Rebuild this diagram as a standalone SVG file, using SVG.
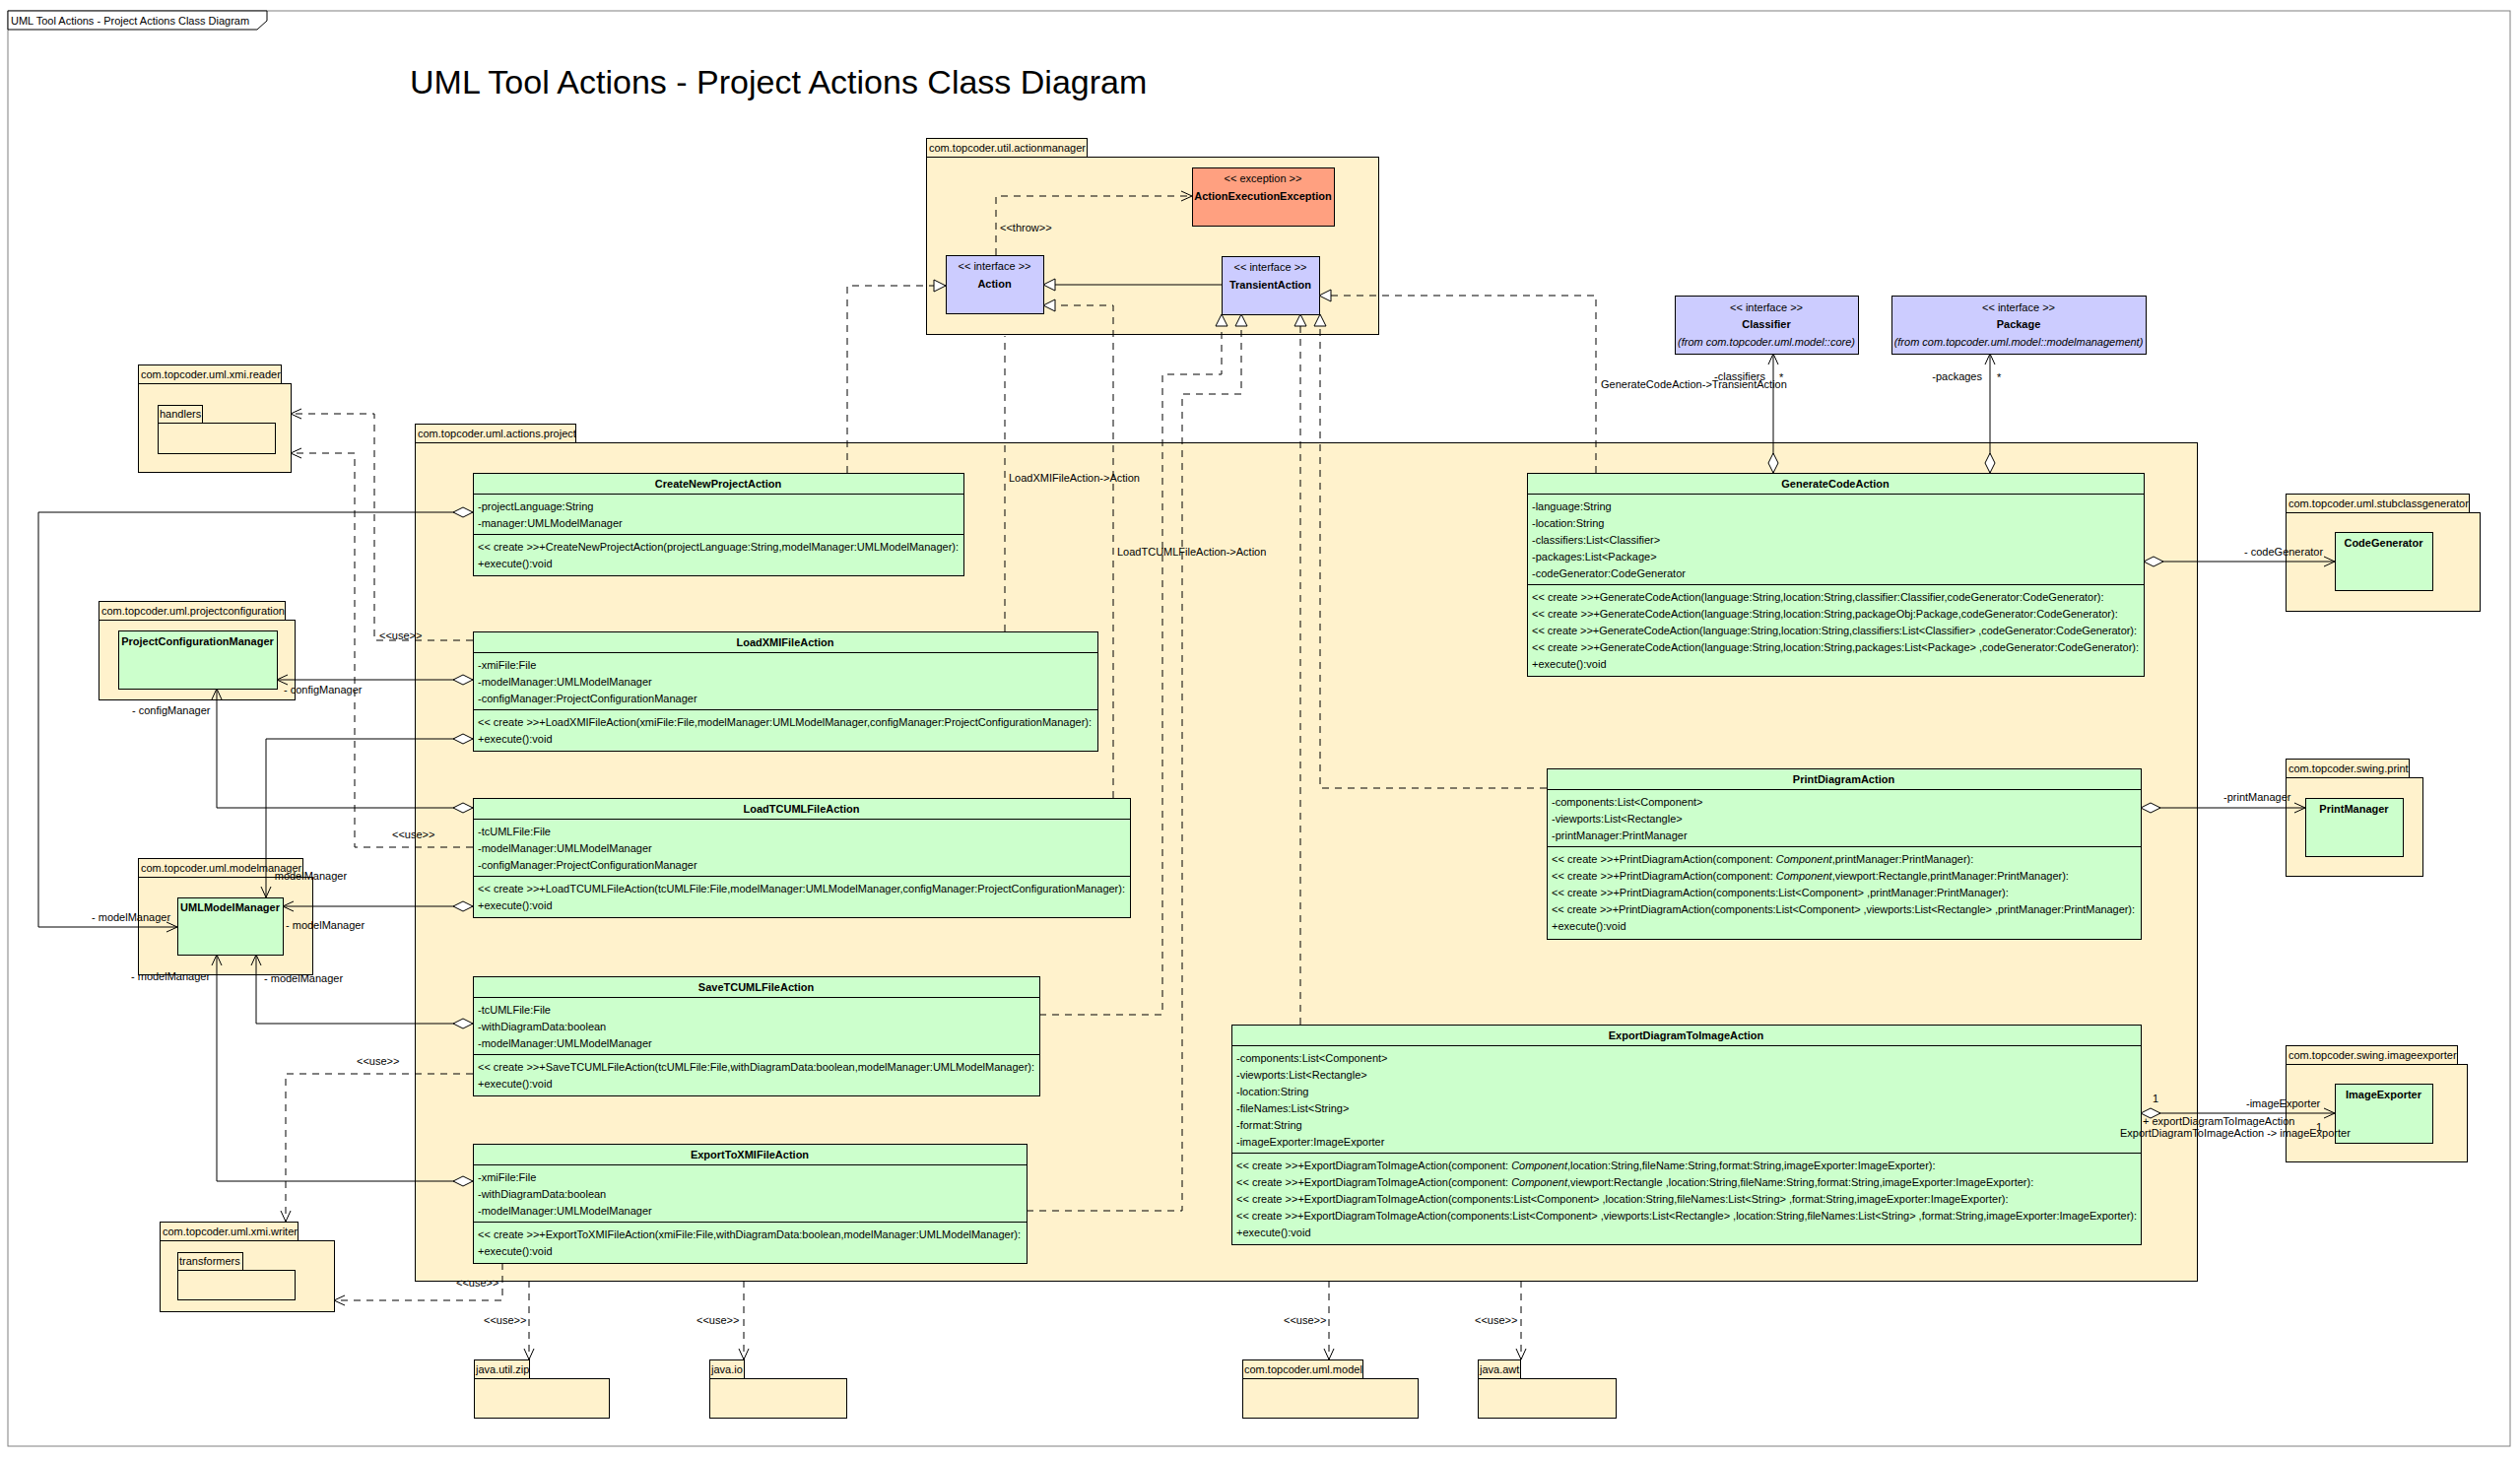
<svg xmlns="http://www.w3.org/2000/svg" width="2558" height="1480" viewBox="0 0 2558 1480">
<style>
.t{font-family:"Liberation Sans",Arial,Helvetica,sans-serif;font-size:11px;fill:#000}
.b{font-weight:bold}
.i{font-style:italic}
.c{text-anchor:middle}
.e{text-anchor:end}
.pkg{fill:#FFF2CC;stroke:#000;stroke-width:1;shape-rendering:crispEdges}
.cls{fill:#CCFFCC;stroke:#000;stroke-width:1;shape-rendering:crispEdges}
.ifc{fill:#CCCCFF;stroke:#000;stroke-width:1;shape-rendering:crispEdges}
.exc{fill:#FFA080;stroke:#000;stroke-width:1;shape-rendering:crispEdges}
.ln{fill:none;stroke:#000;stroke-width:1}
.sep{fill:none;stroke:#000;stroke-width:1;shape-rendering:crispEdges}
.dash{stroke-dasharray:7 6}
.mk{stroke:#000;stroke-width:1;stroke-dasharray:none}
</style>
<defs>
<marker id="arrow" markerUnits="userSpaceOnUse" markerWidth="14" markerHeight="14" refX="11" refY="6" orient="auto" overflow="visible">
<path class="mk" d="M0,1 L11,6 L0,11" fill="none"/>
</marker>
<marker id="tri" markerUnits="userSpaceOnUse" markerWidth="14" markerHeight="14" refX="12" refY="6" orient="auto" overflow="visible">
<path class="mk" d="M0,0 L12,6 L0,12 Z" fill="#fff"/>
</marker>
<marker id="dia" markerUnits="userSpaceOnUse" markerWidth="22" markerHeight="12" refX="0" refY="5" orient="auto" overflow="visible">
<path class="mk" d="M0,5 L10,0 L20,5 L10,10 Z" fill="#fff"/>
</marker>
</defs>
<rect width="2558" height="1480" fill="#fff"/>

<g id="frame">
<rect x="8" y="11" width="2540" height="1457" fill="none" stroke="#808080" stroke-width="1"/>
<path d="M8,11 H271 V21 L261,30 H8 Z" fill="#fff" stroke="#000" stroke-width="1"/>
<text class="t" x="11" y="25">UML Tool Actions - Project Actions Class Diagram</text>
</g>
<g id="title">
<text class="t" x="416" y="95" style="font-size:34px">UML Tool Actions - Project Actions Class Diagram</text>
</g>

<!-- packages -->
<g id="pkg-actionmanager">
<rect class="pkg" x="940" y="140" width="163" height="19"/>
<rect class="pkg" x="940" y="159" width="459" height="180"/>
<text class="t" x="943" y="154">com.topcoder.util.actionmanager</text>
</g>
<g id="pkg-project">
<rect class="pkg" x="421" y="430" width="163" height="19"/>
<rect class="pkg" x="421" y="449" width="1809" height="851"/>
<text class="t" x="424" y="444">com.topcoder.uml.actions.project</text>
</g>
<g id="pkg-xmi-reader">
<rect class="pkg" x="140" y="370" width="145" height="19"/>
<rect class="pkg" x="140" y="389" width="155" height="90"/>
<text class="t" x="143" y="384">com.topcoder.uml.xmi.reader</text>
<rect class="pkg" x="160" y="411" width="45" height="18"/>
<rect class="pkg" x="160" y="429" width="119" height="31"/>
<text class="t" x="162" y="424">handlers</text>
</g>
<g id="pkg-projectconfiguration">
<rect class="pkg" x="100" y="610" width="189" height="19"/>
<rect class="pkg" x="100" y="629" width="199" height="81"/>
<text class="t" x="103" y="624">com.topcoder.uml.projectconfiguration</text>
</g>
<g id="pkg-modelmanager">
<rect class="pkg" x="140" y="871" width="167" height="19"/>
<rect class="pkg" x="140" y="890" width="177" height="99"/>
<text class="t" x="143" y="885">com.topcoder.uml.modelmanager</text>
</g>
<g id="pkg-xmi-writer">
<rect class="pkg" x="162" y="1240" width="140" height="19"/>
<rect class="pkg" x="162" y="1259" width="177" height="72"/>
<text class="t" x="165" y="1254">com.topcoder.uml.xmi.writer</text>
<rect class="pkg" x="180" y="1271" width="66" height="18"/>
<rect class="pkg" x="180" y="1289" width="119" height="30"/>
<text class="t" x="182" y="1284">transformers</text>
</g>
<g id="pkg-stubclassgenerator">
<rect class="pkg" x="2320" y="501" width="186" height="19"/>
<rect class="pkg" x="2320" y="520" width="197" height="100"/>
<text class="t" x="2323" y="515">com.topcoder.uml.stubclassgenerator</text>
</g>
<g id="pkg-swing-print">
<rect class="pkg" x="2320" y="770" width="125" height="19"/>
<rect class="pkg" x="2320" y="789" width="139" height="100"/>
<text class="t" x="2323" y="784">com.topcoder.swing.print</text>
</g>
<g id="pkg-imageexporter">
<rect class="pkg" x="2320" y="1061" width="174" height="19"/>
<rect class="pkg" x="2320" y="1080" width="184" height="99"/>
<text class="t" x="2323" y="1075">com.topcoder.swing.imageexporter</text>
</g>
<g id="pkg-java-util-zip">
<rect class="pkg" x="481" y="1380" width="56" height="19"/>
<rect class="pkg" x="481" y="1399" width="137" height="40"/>
<text class="t" x="483" y="1394">java.util.zip</text>
</g>
<g id="pkg-java-io">
<rect class="pkg" x="720" y="1380" width="35" height="19"/>
<rect class="pkg" x="720" y="1399" width="139" height="40"/>
<text class="t" x="722" y="1394">java.io</text>
</g>
<g id="pkg-uml-model">
<rect class="pkg" x="1261" y="1380" width="122" height="19"/>
<rect class="pkg" x="1261" y="1399" width="178" height="40"/>
<text class="t" x="1263" y="1394">com.topcoder.uml.model</text>
</g>
<g id="pkg-java-awt">
<rect class="pkg" x="1500" y="1380" width="43" height="19"/>
<rect class="pkg" x="1500" y="1399" width="140" height="40"/>
<text class="t" x="1502" y="1394">java.awt</text>
</g>

<!-- nodes -->
<g id="ActionExecutionException">
<rect class="exc" x="1210" y="170" width="144" height="59"/>
<text class="t c" x="1282" y="185">&lt;&lt; exception &gt;&gt;</text>
<text class="t b c" x="1282" y="203">ActionExecutionException</text>
</g>
<g id="Action">
<rect class="ifc" x="960" y="259" width="99" height="59"/>
<text class="t c" x="1009.5" y="274">&lt;&lt; interface &gt;&gt;</text>
<text class="t b c" x="1009.5" y="292">Action</text>
</g>
<g id="TransientAction">
<rect class="ifc" x="1240" y="260" width="99" height="59"/>
<text class="t c" x="1289.5" y="275">&lt;&lt; interface &gt;&gt;</text>
<text class="t b c" x="1289.5" y="293">TransientAction</text>
</g>
<g id="Classifier">
<rect class="ifc" x="1700" y="300" width="186" height="59"/>
<text class="t c" x="1793" y="316">&lt;&lt; interface &gt;&gt;</text>
<text class="t b c" x="1793" y="333">Classifier</text>
<text class="t i c" x="1793" y="351">(from com.topcoder.uml.model::core)</text>
</g>
<g id="Package">
<rect class="ifc" x="1920" y="300" width="258" height="59"/>
<text class="t c" x="2049" y="316">&lt;&lt; interface &gt;&gt;</text>
<text class="t b c" x="2049" y="333">Package</text>
<text class="t i c" x="2049" y="351">(from com.topcoder.uml.model::modelmanagement)</text>
</g>

<g id="ProjectConfigurationManager">
<rect class="cls" x="120" y="640" width="161" height="59"/>
<text class="t b c" x="200.5" y="655">ProjectConfigurationManager</text>
</g>
<g id="UMLModelManager">
<rect class="cls" x="180" y="911" width="107" height="58"/>
<text class="t b c" x="233.5" y="925">UMLModelManager</text>
</g>
<g id="CodeGenerator">
<rect class="cls" x="2370" y="540" width="99" height="59"/>
<text class="t b c" x="2419.5" y="555">CodeGenerator</text>
</g>
<g id="PrintManager">
<rect class="cls" x="2340" y="810" width="99" height="59"/>
<text class="t b c" x="2389.5" y="825">PrintManager</text>
</g>
<g id="ImageExporter">
<rect class="cls" x="2370" y="1100" width="99" height="60"/>
<text class="t b c" x="2419.5" y="1115">ImageExporter</text>
</g>

<g id="CreateNewProjectAction">
<rect class="cls" x="480" y="480" width="498" height="104"/>
<path class="sep" d="M480,501H978M480,542H978"/>
<text class="t b c" x="729" y="495">CreateNewProjectAction</text>
<text class="t" x="485" y="518">-projectLanguage:String</text>
<text class="t" x="485" y="535">-manager:UMLModelManager</text>
<text class="t" x="485" y="559" textLength="488">&lt;&lt; create &gt;&gt;+CreateNewProjectAction(projectLanguage:String,modelManager:UMLModelManager):</text>
<text class="t" x="485" y="576">+execute():void</text>
</g>
<g id="LoadXMIFileAction">
<rect class="cls" x="480" y="641" width="634" height="121"/>
<path class="sep" d="M480,662H1114M480,720H1114"/>
<text class="t b c" x="797" y="656">LoadXMIFileAction</text>
<text class="t" x="485" y="679">-xmiFile:File</text>
<text class="t" x="485" y="696">-modelManager:UMLModelManager</text>
<text class="t" x="485" y="713">-configManager:ProjectConfigurationManager</text>
<text class="t" x="485" y="737" textLength="623">&lt;&lt; create &gt;&gt;+LoadXMIFileAction(xmiFile:File,modelManager:UMLModelManager,configManager:ProjectConfigurationManager):</text>
<text class="t" x="485" y="754">+execute():void</text>
</g>
<g id="LoadTCUMLFileAction">
<rect class="cls" x="480" y="810" width="667" height="121"/>
<path class="sep" d="M480,831H1147M480,889H1147"/>
<text class="t b c" x="813.5" y="825">LoadTCUMLFileAction</text>
<text class="t" x="485" y="848">-tcUMLFile:File</text>
<text class="t" x="485" y="865">-modelManager:UMLModelManager</text>
<text class="t" x="485" y="882">-configManager:ProjectConfigurationManager</text>
<text class="t" x="485" y="906" textLength="657">&lt;&lt; create &gt;&gt;+LoadTCUMLFileAction(tcUMLFile:File,modelManager:UMLModelManager,configManager:ProjectConfigurationManager):</text>
<text class="t" x="485" y="923">+execute():void</text>
</g>
<g id="SaveTCUMLFileAction">
<rect class="cls" x="480" y="991" width="575" height="121"/>
<path class="sep" d="M480,1012H1055M480,1070H1055"/>
<text class="t b c" x="767.5" y="1006">SaveTCUMLFileAction</text>
<text class="t" x="485" y="1029">-tcUMLFile:File</text>
<text class="t" x="485" y="1046">-withDiagramData:boolean</text>
<text class="t" x="485" y="1063">-modelManager:UMLModelManager</text>
<text class="t" x="485" y="1087" textLength="565">&lt;&lt; create &gt;&gt;+SaveTCUMLFileAction(tcUMLFile:File,withDiagramData:boolean,modelManager:UMLModelManager):</text>
<text class="t" x="485" y="1104">+execute():void</text>
</g>
<g id="ExportToXMIFileAction">
<rect class="cls" x="480" y="1161" width="562" height="121"/>
<path class="sep" d="M480,1182H1042M480,1240H1042"/>
<text class="t b c" x="761" y="1176">ExportToXMIFileAction</text>
<text class="t" x="485" y="1199">-xmiFile:File</text>
<text class="t" x="485" y="1216">-withDiagramData:boolean</text>
<text class="t" x="485" y="1233">-modelManager:UMLModelManager</text>
<text class="t" x="485" y="1257" textLength="551">&lt;&lt; create &gt;&gt;+ExportToXMIFileAction(xmiFile:File,withDiagramData:boolean,modelManager:UMLModelManager):</text>
<text class="t" x="485" y="1274">+execute():void</text>
</g>
<g id="GenerateCodeAction">
<rect class="cls" x="1550" y="480" width="626" height="206"/>
<path class="sep" d="M1550,501H2176M1550,593H2176"/>
<text class="t b c" x="1863" y="495">GenerateCodeAction</text>
<text class="t" x="1555" y="518">-language:String</text>
<text class="t" x="1555" y="535">-location:String</text>
<text class="t" x="1555" y="552">-classifiers:List&lt;Classifier&gt;</text>
<text class="t" x="1555" y="569">-packages:List&lt;Package&gt;</text>
<text class="t" x="1555" y="586">-codeGenerator:CodeGenerator</text>
<text class="t" x="1555" y="610">&lt;&lt; create &gt;&gt;+GenerateCodeAction(language:String,location:String,classifier:Classifier,codeGenerator:CodeGenerator):</text>
<text class="t" x="1555" y="627">&lt;&lt; create &gt;&gt;+GenerateCodeAction(language:String,location:String,packageObj:Package,codeGenerator:CodeGenerator):</text>
<text class="t" x="1555" y="644" textLength="614">&lt;&lt; create &gt;&gt;+GenerateCodeAction(language:String,location:String,classifiers:List&lt;Classifier&gt; ,codeGenerator:CodeGenerator):</text>
<text class="t" x="1555" y="661">&lt;&lt; create &gt;&gt;+GenerateCodeAction(language:String,location:String,packages:List&lt;Package&gt; ,codeGenerator:CodeGenerator):</text>
<text class="t" x="1555" y="678">+execute():void</text>
</g>
<g id="PrintDiagramAction">
<rect class="cls" x="1570" y="780" width="603" height="173"/>
<path class="sep" d="M1570,801H2173M1570,859H2173"/>
<text class="t b c" x="1871.5" y="795">PrintDiagramAction</text>
<text class="t" x="1575" y="818">-components:List&lt;Component&gt;</text>
<text class="t" x="1575" y="835">-viewports:List&lt;Rectangle&gt;</text>
<text class="t" x="1575" y="852">-printManager:PrintManager</text>
<text class="t" x="1575" y="876">&lt;&lt; create &gt;&gt;+PrintDiagramAction(component: <tspan class="i">Component</tspan>,printManager:PrintManager):</text>
<text class="t" x="1575" y="893">&lt;&lt; create &gt;&gt;+PrintDiagramAction(component: <tspan class="i">Component</tspan>,viewport:Rectangle,printManager:PrintManager):</text>
<text class="t" x="1575" y="910">&lt;&lt; create &gt;&gt;+PrintDiagramAction(components:List&lt;Component&gt; ,printManager:PrintManager):</text>
<text class="t" x="1575" y="927" textLength="592">&lt;&lt; create &gt;&gt;+PrintDiagramAction(components:List&lt;Component&gt; ,viewports:List&lt;Rectangle&gt; ,printManager:PrintManager):</text>
<text class="t" x="1575" y="944">+execute():void</text>
</g>
<g id="ExportDiagramToImageAction">
<rect class="cls" x="1250" y="1040" width="923" height="223"/>
<path class="sep" d="M1250,1061H2173M1250,1170H2173"/>
<text class="t b c" x="1711.5" y="1055">ExportDiagramToImageAction</text>
<text class="t" x="1255" y="1078">-components:List&lt;Component&gt;</text>
<text class="t" x="1255" y="1095">-viewports:List&lt;Rectangle&gt;</text>
<text class="t" x="1255" y="1112">-location:String</text>
<text class="t" x="1255" y="1129">-fileNames:List&lt;String&gt;</text>
<text class="t" x="1255" y="1146">-format:String</text>
<text class="t" x="1255" y="1163">-imageExporter:ImageExporter</text>
<text class="t" x="1255" y="1187">&lt;&lt; create &gt;&gt;+ExportDiagramToImageAction(component: <tspan class="i">Component</tspan>,location:String,fileName:String,format:String,imageExporter:ImageExporter):</text>
<text class="t" x="1255" y="1204">&lt;&lt; create &gt;&gt;+ExportDiagramToImageAction(component: <tspan class="i">Component</tspan>,viewport:Rectangle ,location:String,fileName:String,format:String,imageExporter:ImageExporter):</text>
<text class="t" x="1255" y="1221">&lt;&lt; create &gt;&gt;+ExportDiagramToImageAction(components:List&lt;Component&gt; ,location:String,fileNames:List&lt;String&gt; ,format:String,imageExporter:ImageExporter):</text>
<text class="t" x="1255" y="1238" textLength="914">&lt;&lt; create &gt;&gt;+ExportDiagramToImageAction(components:List&lt;Component&gt; ,viewports:List&lt;Rectangle&gt; ,location:String,fileNames:List&lt;String&gt; ,format:String,imageExporter:ImageExporter):</text>
<text class="t" x="1255" y="1255">+execute():void</text>
</g>

<!-- connectors -->
<g id="connectors">
<path class="ln dash" d="M1011,259V199H1210" marker-end="url(#arrow)"/>
<path class="ln" d="M1240,289H1059" marker-end="url(#tri)"/>
<path class="ln dash" d="M860,480V290H960" marker-end="url(#tri)"/>
<path class="ln dash" d="M1020,641V341"/>
<path class="ln dash" d="M1130,810V310H1059" marker-end="url(#tri)"/>
<path class="ln dash" d="M1055,1030H1180V380H1240V319" marker-end="url(#tri)"/>
<path class="ln dash" d="M1042,1229H1200V400H1260V319" marker-end="url(#tri)"/>
<path class="ln dash" d="M1320,1040V319" marker-end="url(#tri)"/>
<path class="ln dash" d="M1570,800H1340V319" marker-end="url(#tri)"/>
<path class="ln dash" d="M1620,480V300H1339" marker-end="url(#tri)"/>

<path class="ln" d="M480,520H39V941H180" marker-start="url(#dia)" marker-end="url(#arrow)"/>
<path class="ln" d="M480,690H281" marker-start="url(#dia)" marker-end="url(#arrow)"/>
<path class="ln" d="M480,750H270V911" marker-start="url(#dia)" marker-end="url(#arrow)"/>
<path class="ln" d="M480,820H220V699" marker-start="url(#dia)" marker-end="url(#arrow)"/>
<path class="ln" d="M480,920H287" marker-start="url(#dia)" marker-end="url(#arrow)"/>
<path class="ln" d="M480,1039H260V969" marker-start="url(#dia)" marker-end="url(#arrow)"/>
<path class="ln" d="M480,1199H220V969" marker-start="url(#dia)" marker-end="url(#arrow)"/>
<path class="ln" d="M1800,480V359" marker-start="url(#dia)" marker-end="url(#arrow)"/>
<path class="ln" d="M2020,480V359" marker-start="url(#dia)" marker-end="url(#arrow)"/>
<path class="ln" d="M2176,570H2370" marker-start="url(#dia)" marker-end="url(#arrow)"/>
<path class="ln" d="M2173,820H2340" marker-start="url(#dia)" marker-end="url(#arrow)"/>
<path class="ln" d="M2173,1130H2370" marker-start="url(#dia)" marker-end="url(#arrow)"/>

<path class="ln dash" d="M480,650H380V420H295" marker-end="url(#arrow)"/>
<path class="ln dash" d="M480,860H360V460H295" marker-end="url(#arrow)"/>
<path class="ln dash" d="M480,1090H290V1240" marker-end="url(#arrow)"/>
<path class="ln dash" d="M510,1282V1320H339" marker-end="url(#arrow)"/>
<path class="ln dash" d="M537,1300V1380" marker-end="url(#arrow)"/>
<path class="ln dash" d="M755,1300V1380" marker-end="url(#arrow)"/>
<path class="ln dash" d="M1349,1300V1380" marker-end="url(#arrow)"/>
<path class="ln dash" d="M1544,1300V1380" marker-end="url(#arrow)"/>

<text class="t" x="1015" y="235">&lt;&lt;throw&gt;&gt;</text>
<text class="t" x="1024" y="489">LoadXMIFileAction-&gt;Action</text>
<text class="t" x="1134" y="564">LoadTCUMLFileAction-&gt;Action</text>
<text class="t" x="1625" y="394">GenerateCodeAction-&gt;TransientAction</text>
<text class="t" x="93" y="935">- modelManager</text>
<text class="t" x="288" y="704">- configManager</text>
<text class="t" x="272" y="893">- modelManager</text>
<text class="t" x="134" y="725">- configManager</text>
<text class="t" x="290" y="943">- modelManager</text>
<text class="t" x="268" y="997">- modelManager</text>
<text class="t" x="133" y="995">- modelManager</text>
<text class="t e" x="1792" y="386">-classifiers</text>
<text class="t" x="1806" y="387">*</text>
<text class="t e" x="2012" y="386">-packages</text>
<text class="t" x="2027" y="387">*</text>
<text class="t" x="2278" y="564">- codeGenerator</text>
<text class="t" x="2257" y="813">-printManager</text>
<text class="t" x="2185" y="1119">1</text>
<text class="t" x="2280" y="1124">-imageExporter</text>
<text class="t" x="2175" y="1142">+ exportDiagramToImageAction</text>
<text class="t" x="2152" y="1154">ExportDiagramToImageAction -&gt; imageExporter</text>
<text class="t" x="2351" y="1148">1</text>
<text class="t" x="385" y="649">&lt;&lt;use&gt;&gt;</text>
<text class="t" x="398" y="851">&lt;&lt;use&gt;&gt;</text>
<text class="t" x="362" y="1081">&lt;&lt;use&gt;&gt;</text>
<text class="t" x="463" y="1306">&lt;&lt;use&gt;&gt;</text>
<text class="t" x="491" y="1344">&lt;&lt;use&gt;&gt;</text>
<text class="t" x="707" y="1344">&lt;&lt;use&gt;&gt;</text>
<text class="t" x="1303" y="1344">&lt;&lt;use&gt;&gt;</text>
<text class="t" x="1497" y="1344">&lt;&lt;use&gt;&gt;</text>
</g>
</svg>
